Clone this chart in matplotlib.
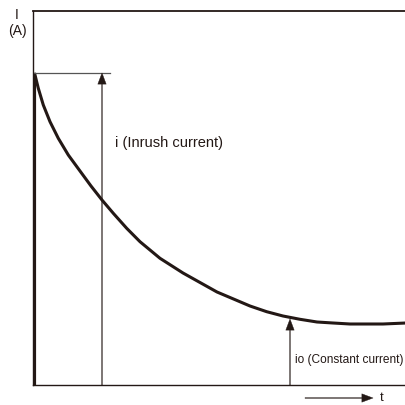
import numpy as np
import matplotlib
matplotlib.use("Agg")
import matplotlib.pyplot as plt

# curve (t, I), arbitrary units
t_vals = [1, 2, 5.3, 10.3, 17, 25.3, 35.3, 47, 58, 69, 80.3, 93.7, 107, 127, 150,
          184, 217, 233.7, 250, 267, 284, 300, 317, 350, 373]
i_vals = [312, 310, 296.7, 280, 263.3, 246.7, 230, 214, 199, 185, 171.7, 156.7, 143.3, 126.7, 112,
          93, 79, 73.3, 69, 65.7, 63, 62, 61, 61, 62]

peak = 312          # inrush peak level
t_inrush = 69       # where the inrush arrow sits
t_const = 257       # where the constant current arrow sits
i_const = 66

ink = "#231815"
plt.rcParams['font.family'] = ['Liberation Sans', 'DejaVu Sans']

fig = plt.figure(figsize=(4.06, 4.05), dpi=100)
ax = fig.add_axes([33/406, 20/405, 373/406, 374/405])
ax.set_xlim(0, 373)
ax.set_ylim(0, 374)
ax.set_xticks([])
ax.set_yticks([])
ax.spines['right'].set_visible(False)
for s in ['left', 'top', 'bottom']:
    ax.spines[s].set_color(ink)
ax.spines['top'].set_linewidth(1.3)
ax.spines['left'].set_linewidth(1.0)
ax.spines['bottom'].set_linewidth(1.0)

# decay curve and the jump at t=0
ax.plot(t_vals, i_vals, color=ink, lw=2.2, solid_capstyle='butt', solid_joinstyle='round')
ax.plot([1.5, 1.5], [0, peak], color=ink, lw=3.0, solid_capstyle='butt')
ax.plot([1.5, 77], [peak, peak], color="#555555", lw=0.9)

arrow = dict(width=0.4, headwidth=6, headlength=8, facecolor=ink, edgecolor=ink, lw=0.3, shrink=0)
ax.annotate('', xy=(t_inrush, peak), xytext=(t_inrush, 0), arrowprops=arrow)
ax.annotate('', xy=(t_const, i_const), xytext=(t_const, 0), arrowprops=arrow)

ax.text(82, 242, 'i (Inrush current)', fontsize=10.5, color=ink, va='center')
ax.text(262, 25, 'io (Constant current)', fontsize=8.6, color=ink, va='center')

# axis labels outside the box
ax.annotate('', xy=(340, -13), xytext=(272, -13), arrowprops=arrow, annotation_clip=False)
ax.text(347, -13, 't', fontsize=9.5, color=ink, va='center', clip_on=False)
ax.text(-16, 370, 'I', fontsize=10, color=ink, ha='center', va='center', clip_on=False)
ax.text(-16, 354, '(A)', fontsize=10, color=ink, ha='center', va='center', clip_on=False)

fig.savefig("out.png", dpi=100)
